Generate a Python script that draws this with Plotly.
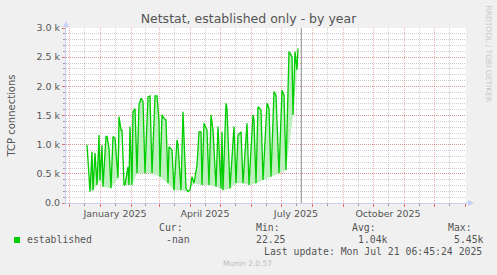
import plotly.graph_objects as go

# ---------------- data ----------------
title = "Netstat, established only - by year"
y_title = "TCP connections"
series_name = "established"

dates = [
    "2024-12-19", "2024-12-22", "2024-12-24", "2024-12-25", "2024-12-27", "2024-12-29",
    "2024-12-31", "2025-01-01", "2025-01-03", "2025-01-04", "2025-01-07", "2025-01-08",
    "2025-01-10", "2025-01-12", "2025-01-14", "2025-01-16", "2025-01-19", "2025-01-20",
    "2025-01-22", "2025-01-23", "2025-01-25", "2025-01-26", "2025-01-29", "2025-01-30",
    "2025-01-31", "2025-02-02", "2025-02-03", "2025-02-05", "2025-02-07", "2025-02-09",
    "2025-02-11", "2025-02-13", "2025-02-15", "2025-02-18", "2025-02-20", "2025-02-22",
    "2025-02-25", "2025-02-27", "2025-03-01", "2025-03-02", "2025-03-04", "2025-03-06",
    "2025-03-08", "2025-03-10", "2025-03-11", "2025-03-14", "2025-03-16", "2025-03-19",
    "2025-03-20", "2025-03-23", "2025-03-25", "2025-03-28", "2025-03-30", "2025-04-01",
    "2025-04-03", "2025-04-05", "2025-04-08", "2025-04-10", "2025-04-12", "2025-04-13",
    "2025-04-15", "2025-04-18", "2025-04-20", "2025-04-22", "2025-04-24", "2025-04-27",
    "2025-04-29", "2025-04-30", "2025-05-02", "2025-05-03", "2025-05-04", "2025-05-07",
    "2025-05-08", "2025-05-11", "2025-05-15", "2025-05-17", "2025-05-19", "2025-05-22",
    "2025-05-24", "2025-05-28", "2025-05-29", "2025-05-30", "2025-06-03", "2025-06-04",
    "2025-06-06", "2025-06-08", "2025-06-11", "2025-06-13", "2025-06-17", "2025-06-19",
    "2025-06-21", "2025-06-24", "2025-06-26", "2025-06-29", "2025-07-02", "2025-07-04",
    "2025-07-06", "2025-07-09", "2025-07-12", "2025-07-13", "2025-07-15", "2025-07-17",
    "2025-07-18",
]
values = [
    1000, 195, 880, 220, 855, 310,
    1165, 390, 990, 280, 1140, 1140,
    940, 255, 1140, 1110, 430, 1480,
    1250, 1250, 310, 310, 620, 310,
    1310, 310, 1565, 1620, 510, 1680,
    1795, 1740, 510, 1820, 1835, 510,
    1835, 1835, 1420, 450, 1510, 1450,
    1420, 340, 965, 910, 220, 1080,
    995, 220, 1565, 250, 195, 220,
    450, 340, 650, 1220, 1220, 310,
    1365, 1250, 310, 1510, 1250, 280,
    1310, 880, 250, 1220, 220, 1710,
    1620, 250, 1310, 340, 1165, 1220,
    340, 1365, 650, 310, 1510, 1420,
    340, 1650, 1595, 395, 1710, 1620,
    450, 1910, 1850, 510, 1935, 1850,
    565, 2595, 2510, 1510, 2595, 2280,
    2650,
]

x_start = "2024-11-28"
x_end = "2026-01-02"
month_starts = ["2024-12-01", "2025-01-01", "2025-02-01", "2025-03-01", "2025-04-01",
                "2025-05-01", "2025-06-01", "2025-07-01", "2025-08-01", "2025-09-01",
                "2025-10-01", "2025-11-01", "2025-12-01", "2026-01-01"]
mid_months = ["2024-12-16", "2025-01-16", "2025-02-15", "2025-03-16", "2025-04-16",
              "2025-05-16", "2025-06-16", "2025-07-16", "2025-08-16", "2025-09-16",
              "2025-10-16", "2025-11-16", "2025-12-16"]
label_dates = ["2025-01-16", "2025-04-16", "2025-07-16", "2025-10-16"]
label_text = ["January 2025", "April 2025", "July 2025", "October 2025"]
y_ticks = [0, 500, 1000, 1500, 2000, 2500, 3000]
y_ticktext = ["0.0", "0.5 k", "1.0 k", "1.5 k", "2.0 k", "2.5 k", "3.0 k"]
y_range = [0, 3000]
last_update = "2025-07-21 06:45:24"
stats_head = ["Cur:", "Min:", "Avg:", "Max:"]
stats_vals = ["-nan", "22.25", "1.04k", "5.45k"]
update_text = "Last update: Mon Jul 21 06:45:24 2025"
watermark = "RRDTOOL / TOBI OETIKER"
footer = "Munin 2.0.57"

# ---------------- layout constants ----------------
W, H = 497, 275
L, T, PW, PH = 66, 28, 400, 175
GREEN = "#00CC00"
FILL = "#BDF0BD"
FONT = "DejaVu Sans"
MONO = "DejaVu Sans Mono"
TXT = "#555555"
AXIS = "#C9CFF4"
MGRID = "rgba(222,70,70,0.42)"
GRID = "rgba(140,140,140,0.42)"


def px(x):
    return (x - L) / PW


def py(y):
    return (T + PH - y) / PH


fig = go.Figure()

# light interior of each spike: one trace, spikes split by gaps (each gap-separated part is closed)
n = len(values)
mins = [0] + [i for i in range(1, n - 1) if values[i] <= values[i - 1] and values[i] <= values[i + 1]] + [n - 1]
fx, fy = [], []
for a, b in zip(mins[:-1], mins[1:]):
    if b - a >= 2:
        fx += dates[a:b + 1] + [None]
        fy += values[a:b + 1] + [None]
fig.add_trace(go.Scatter(x=fx, y=fy, mode="lines", fill="toself", fillcolor=FILL,
                         line=dict(width=0), connectgaps=False,
                         hoverinfo="skip", showlegend=False))

fig.add_trace(go.Scatter(x=dates, y=values, mode="lines", name=series_name,
                         line=dict(color=GREEN, width=1.3), showlegend=False))

# invisible trace for the label axis
fig.add_trace(go.Scatter(x=label_dates, y=[0] * len(label_dates), xaxis="x2", mode="markers",
                         marker=dict(opacity=0), hoverinfo="skip", showlegend=False))

fig.update_layout(
    width=W, height=H,
    margin=dict(l=L, r=W - L - PW, t=T, b=H - T - PH),
    paper_bgcolor="#F0F0F0", plot_bgcolor="#FFFFFF",
    font=dict(family=FONT, color=TXT),
    title=dict(text=title, x=0.5, xanchor="center", xref="container",
               y=1 - 18.5 / H, yanchor="middle", yref="container",
               font=dict(family=FONT, size=12.5, color=TXT)),
    xaxis=dict(type="date", range=[x_start, x_end], tickmode="array", tickvals=month_starts,
               showticklabels=False, showgrid=True, gridcolor=MGRID, griddash="1px,1px", gridwidth=1,
               ticks="outside", ticklen=3, tickcolor="#E07070",
               showline=True, linecolor=AXIS, linewidth=1, zeroline=False,
               minor=dict(tickmode="array", tickvals=mid_months, showgrid=True, gridcolor=GRID,
                          griddash="1px,1px", gridwidth=1, ticks="outside", ticklen=2,
                          tickcolor="#999999")),
    xaxis2=dict(type="date", range=[x_start, x_end], overlaying="x", side="bottom",
                tickmode="array", tickvals=label_dates, ticktext=label_text,
                showgrid=False, showline=False, zeroline=False, ticks="",
                tickfont=dict(family=FONT, size=9.5, color=TXT), ticklabelstandoff=3),
    yaxis=dict(range=y_range, tickmode="array", tickvals=y_ticks, ticktext=y_ticktext,
               showgrid=True, gridcolor=MGRID, griddash="1px,1px", gridwidth=1,
               ticks="outside", ticklen=3, tickcolor="#E07070",
               tickfont=dict(family=FONT, size=9.5, color=TXT),
               showline=True, linecolor=AXIS, linewidth=1, zeroline=False,
               minor=dict(dtick=100, showgrid=True, gridcolor=GRID, griddash="1px,1px",
                          gridwidth=1, ticks="outside", ticklen=2, tickcolor="#999999")),
    hovermode=False,
)

shapes = []
# axis extensions and arrows
shapes.append(dict(type="line", xref="paper", yref="paper", x0=px(L), x1=px(L), y0=py(T), y1=py(T - 5),
                   line=dict(color=AXIS, width=1)))
shapes.append(dict(type="line", xref="paper", yref="paper", x0=px(L + PW), x1=px(L + PW + 4),
                   y0=py(T + PH), y1=py(T + PH), line=dict(color=AXIS, width=1)))
shapes.append(dict(type="path", xref="paper", yref="paper",
                   path=f"M {px(L-3)} {py(T-1)} L {px(L+3)} {py(T-1)} L {px(L)} {py(T-7)} Z",
                   fillcolor=AXIS, line=dict(width=0)))
shapes.append(dict(type="path", xref="paper", yref="paper",
                   path=f"M {px(L+PW+2)} {py(T+PH-3)} L {px(L+PW+2)} {py(T+PH+3)} L {px(L+PW+8)} {py(T+PH)} Z",
                   fillcolor=AXIS, line=dict(width=0)))
# vertical rule at last update
shapes.append(dict(type="line", xref="x", yref="paper", x0=last_update, x1=last_update, y0=0, y1=1,
                   line=dict(color="#8A8A8A", width=1)))
# legend swatch
shapes.append(dict(type="rect", xref="paper", yref="paper", x0=px(14), x1=px(20), y0=py(243), y1=py(237),
                   fillcolor=GREEN, line=dict(width=0)))
fig.update_layout(shapes=shapes)

ann = []
ann.append(dict(text=y_title, xref="paper", yref="paper", x=px(11), y=py(115.5), textangle=-90,
                showarrow=False, xanchor="center", yanchor="middle",
                font=dict(family=FONT, size=10, color=TXT)))
ann.append(dict(text=watermark, xref="paper", yref="paper", x=px(488), y=py(53.5), textangle=90,
                showarrow=False, xanchor="center", yanchor="middle",
                font=dict(family=FONT, size=7.5, color="#C8C8C8")))
ann.append(dict(text=series_name, xref="paper", yref="paper", x=px(26), y=py(239.5), showarrow=False,
                xanchor="left", yanchor="middle", font=dict(family=MONO, size=9.8, color=TXT)))
head_x = [158.3, 255, 351, 446.7]
val_x = [165, 255.3, 357.3, 453.3]
for hx, h in zip(head_x, stats_head):
    ann.append(dict(text=h, xref="paper", yref="paper", x=px(hx), y=py(227.5), showarrow=False,
                    xanchor="left", yanchor="middle", font=dict(family=MONO, size=9.8, color=TXT)))
for vx, v in zip(val_x, stats_vals):
    ann.append(dict(text=v, xref="paper", yref="paper", x=px(vx), y=py(239.5), showarrow=False,
                    xanchor="left", yanchor="middle", font=dict(family=MONO, size=9.8, color=TXT)))
ann.append(dict(text=update_text, xref="paper", yref="paper", x=px(482.5), y=py(251.7), showarrow=False,
                xanchor="right", yanchor="middle", font=dict(family=MONO, size=9.8, color=TXT)))
ann.append(dict(text=footer, xref="paper", yref="paper", x=px(247.5), y=py(263.5), showarrow=False,
                xanchor="center", yanchor="middle", font=dict(family=FONT, size=7.5, color="#BBBBBB")))
for a in ann:
    a["borderpad"] = 0
fig.update_layout(annotations=ann)

fig.write_html("out.html")
